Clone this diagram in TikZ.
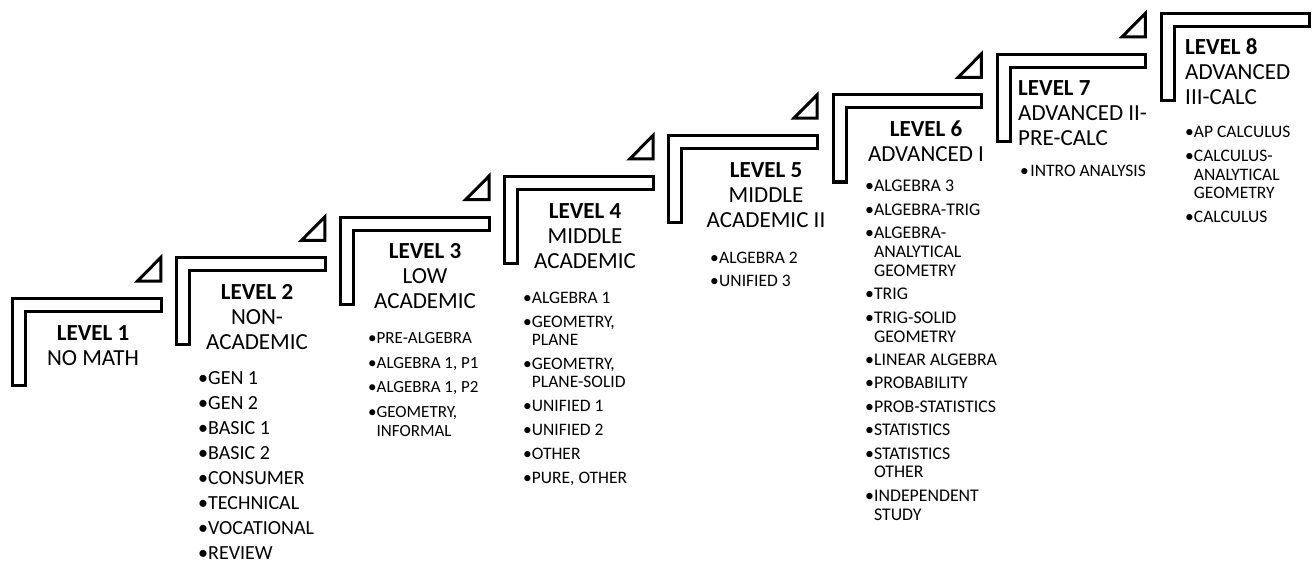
\documentclass[tikz,border=0pt]{standalone}
\usepackage{fontspec}
\setmainfont{Carlito}
\newlength\bulgap
\newcommand\LItem[1]{\hbox{•\kern\bulgap#1}}
\newcommand\LCont[1]{\hbox{\phantom{•}\kern\bulgap#1}}
\newcommand\TC[1]{\hbox to 0pt{\hss#1\hss}}
\newcommand\TL[1]{\hbox{#1}}
\tikzset{
  stepshape/.style={draw=black, line width=3pt, line join=miter, miter limit=10, fill=white},
  titletext/.style={inner sep=0pt, anchor=base, font=\fontsize{23}{25}\selectfont},
  titleleft/.style={inner sep=0pt, anchor=base west, font=\fontsize{23}{25}\selectfont},
  listtext/.style={inner sep=0pt, anchor=base west, font=\fontsize{17.5}{18.5}\selectfont},
  biglist/.style={inner sep=0pt, anchor=base west, font=\fontsize{20}{25}\selectfont}
}
\begin{document}
\begin{tikzpicture}[x=1pt,y=-1pt]
\useasboundingbox (0,0) rectangle (1313,564);
\foreach \i in {0,...,7}{
  \pgfmathsetmacro\L{11+164.1*\i}
  \pgfmathsetmacro\T{297-40.7*\i}
  \draw[stepshape] (\L+1.5,\T+1.5) -- (\L+150,\T+1.5) -- (\L+150,\T+14.5) -- (\L+14.5,\T+14.5) -- (\L+14.5,\T+88.5) -- (\L+1.5,\T+88.5) -- cycle;
}
\foreach \i in {0,...,6}{
  \pgfmathsetmacro\L{11+164.1*\i}
  \pgfmathsetmacro\T{297-40.7*\i}
  \draw[stepshape] (\L+126.5,\T-16) -- (\L+149.8,\T-39.5) -- (\L+149.8,\T-16) -- cycle;
}
% titles
\node[titletext] (t1) at (93,340) {\vtop{\TC{\textbf{LEVEL 1}}\TC{NO MATH}}};
\node[titletext] (t2) at (257,299) {\vtop{\TC{\textbf{LEVEL 2}}\TC{NON-}\TC{ACADEMIC}}};
\node[titletext] (t3) at (425,258.6) {\vtop{\TC{\textbf{LEVEL 3}}\TC{LOW}\TC{ACADEMIC}}};
\node[titletext] (t4) at (585,218) {\vtop{\TC{\textbf{LEVEL 4}}\TC{MIDDLE}\TC{ACADEMIC}}};
\node[titletext] (t5) at (766,177.5) {\vtop{\TC{\textbf{LEVEL 5}}\TC{MIDDLE}\TC{ACADEMIC II}}};
\node[titletext] (t6) at (926,136.5) {\vtop{\TC{\textbf{LEVEL 6}}\TC{ADVANCED I}}};
\node[titleleft] (t7) at (1018,95.5) {\vtop{\TL{\textbf{LEVEL 7}}\TL{ADVANCED II-}\TL{PRE-CALC}}};
\node[titleleft] (t8) at (1185,55) {\vtop{\TL{\textbf{LEVEL 8}}\TL{ADVANCED}\TL{III-CALC}}};
% lists
\node[biglist] (l2) at (198,384) {\bulgap=0pt\vtop{\LItem{GEN 1}\LItem{GEN 2}\LItem{BASIC 1}\LItem{BASIC 2}\LItem{CONSUMER}\LItem{TECHNICAL}\LItem{VOCATIONAL}\LItem{REVIEW}}};
\node[listtext, font=\fontsize{17}{18.3}\selectfont] (l3) at (368,343.3) {\bulgap=0pt\vtop{\LItem{PRE-ALGEBRA}\vskip6.5pt\LItem{ALGEBRA 1, P1}\vskip6.5pt\LItem{ALGEBRA 1, P2}\vskip6.5pt\LItem{GEOMETRY,}\LCont{INFORMAL}}};
\node[listtext] (l4) at (523,303.3) {\bulgap=0pt\vtop{\LItem{ALGEBRA 1}\vskip5.3pt\LItem{GEOMETRY,}\LCont{PLANE}\vskip5.3pt\LItem{GEOMETRY,}\LCont{PLANE-SOLID}\vskip5.3pt\LItem{UNIFIED 1}\vskip5.3pt\LItem{UNIFIED 2}\vskip5.3pt\LItem{OTHER}\vskip5.3pt\LItem{PURE, OTHER}}};
\node[listtext] (l5) at (710,263.3) {\bulgap=0.3pt\vtop{\LItem{ALGEBRA 2}\vskip4.9pt\LItem{UNIFIED 3}}};
\node[listtext, font=\fontsize{17.8}{18.8}\selectfont] (l6) at (865,192) {\bulgap=0pt\vtop{\LItem{ALGEBRA 3}\vskip4.6pt\LItem{ALGEBRA-TRIG}\vskip4.6pt\LItem{ALGEBRA-}\LCont{ANALYTICAL}\LCont{GEOMETRY}\vskip4.6pt\LItem{TRIG}\vskip4.6pt\LItem{TRIG-SOLID}\LCont{GEOMETRY}\vskip4.6pt\LItem{LINEAR ALGEBRA}\vskip4.6pt\LItem{PROBABILITY}\vskip4.6pt\LItem{PROB-STATISTICS}\vskip4.6pt\LItem{STATISTICS}\vskip4.6pt\LItem{STATISTICS}\LCont{OTHER}\vskip4.6pt\LItem{INDEPENDENT}\LCont{STUDY}}};
\node[listtext] (l7) at (1020,177) {\bulgap=1.5pt\vtop{\LItem{INTRO ANALYSIS}}};
\node[listtext] (l8) at (1185,138) {\bulgap=0pt\vtop{\LItem{AP CALCULUS}\vskip5.2pt\LItem{CALCULUS-}\LCont{ANALYTICAL}\LCont{GEOMETRY}\vskip5.2pt\LItem{CALCULUS}}};
\end{tikzpicture}
\end{document}
